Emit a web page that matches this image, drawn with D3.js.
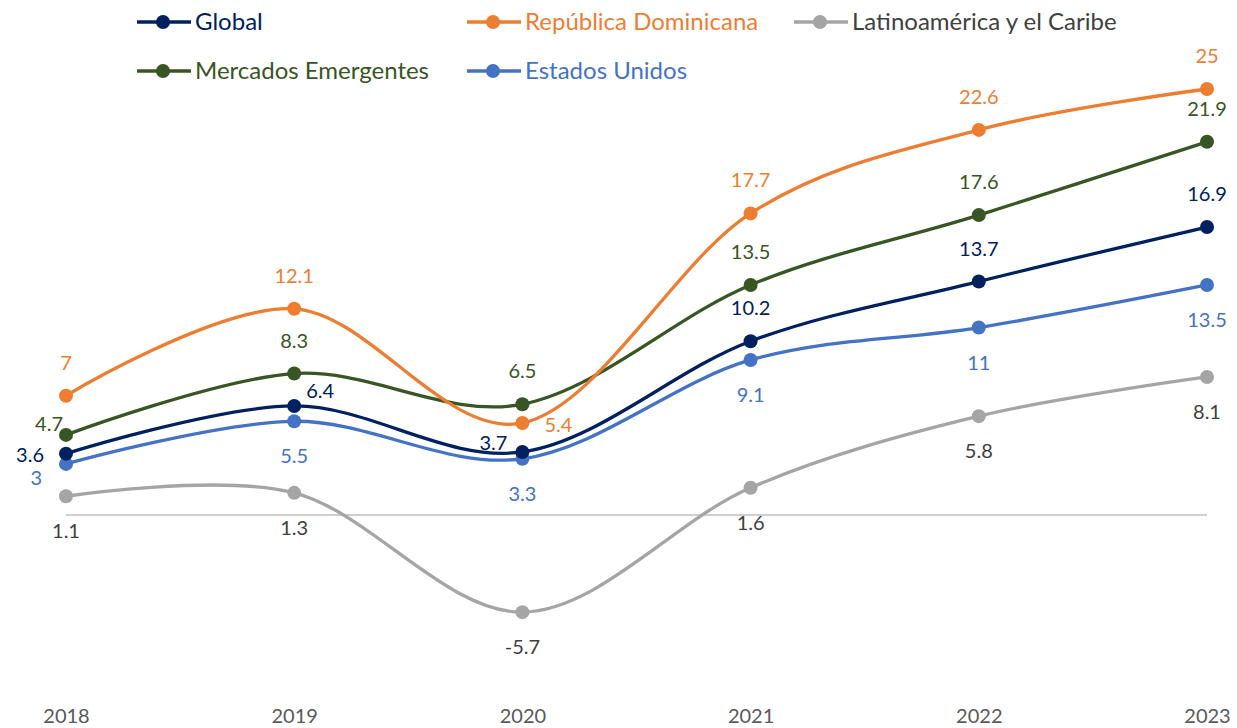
<!DOCTYPE html>
<html>
<head>
<meta charset="utf-8">
<script src="https://cdn.jsdelivr.net/npm/d3@7"></script>
<style>
  body { margin: 0; background: #fff; }
  svg { font-family: Lato, Calibri, "Open Sans", sans-serif; }
</style>
</head>
<body>
<svg id="chart" width="1237" height="728"></svg>
<script>
// data
const years = ["2018", "2019", "2020", "2021", "2022", "2023"];
const global = [3.6, 6.4, 3.7, 10.2, 13.7, 16.9];
const repDom = [7, 12.1, 5.4, 17.7, 22.6, 25];
const latam = [1.1, 1.3, -5.7, 1.6, 5.8, 8.1];
const emergentes = [4.7, 8.3, 6.5, 13.5, 17.6, 21.9];
const eeuu = [3, 5.5, 3.3, 9.1, 11, 13.5];

// series setup (draw order: bottom first)
const series = [
  { name: "Latinoamérica y el Caribe", values: latam, color: "#A5A5A5", text: "#404040",
    place: ["below", "below", "below", "below", "below", "below"] },
  { name: "Estados Unidos", values: eeuu, color: "#4472C4", text: "#4472C4",
    place: ["leftbelow", "below", "below", "below", "below", "below"] },
  { name: "Global", values: global, color: "#002060", text: "#002060",
    place: ["left", "rightabove", "leftup", "above", "above", "above"] },
  { name: "Mercados Emergentes", values: emergentes, color: "#375623", text: "#375623",
    place: ["leftabove", "above", "above", "above", "above", "above"] },
  { name: "República Dominicana", values: repDom, color: "#ED7D31", text: "#ED7D31",
    place: ["above", "above", "right", "above", "above", "above"] }
];

const svg = d3.select("#chart");

const x = d3.scalePoint().domain(years).range([66, 1207]);
const y = d3.scaleLinear().domain([0, 25]).range([515, 89]);

// zero line
svg.append("line")
  .attr("x1", x(years[0])).attr("x2", x(years[years.length - 1]))
  .attr("y1", y(0)).attr("y2", y(0))
  .attr("stroke", "#BFBFBF").attr("stroke-width", 1.5);

// x axis labels
const xAxis = svg.append("g")
  .attr("transform", "translate(0,716)")
  .call(d3.axisBottom(x).tickSize(0).tickPadding(0));
xAxis.select(".domain").remove();
xAxis.selectAll("text")
  .attr("dy", "0.35em")
  .style("font-family", "Lato, Calibri, sans-serif")
  .style("font-size", "20px")
  .attr("fill", "#595959");

const line = d3.line()
  .x((d, i) => x(years[i]))
  .y(d => y(d))
  .curve(d3.curveCardinal.tension(0));

series.forEach(s => {
  svg.append("path")
    .attr("d", line(s.values))
    .attr("fill", "none")
    .attr("stroke", s.color)
    .attr("stroke-width", 3.3);
});

series.forEach(s => {
  svg.selectAll(null)
    .data(s.values)
    .enter().append("circle")
      .attr("cx", (d, i) => x(years[i]))
      .attr("cy", d => y(d))
      .attr("r", 7)
      .attr("fill", s.color);
});

// data labels: [dx, dy, anchor]
const offsets = {
  above: [0, -33, "middle"],
  below: [0, 35, "middle"],
  left: [-22, 1, "end"],
  right: [22, 2, "start"],
  leftabove: [-3, -11, "end"],
  leftup: [-15, -9, "end"],
  leftbelow: [-24, 14, "end"],
  rightabove: [12, -15, "start"]
};
series.forEach(s => {
  svg.selectAll(null)
    .data(s.values)
    .enter().append("text")
      .attr("x", (d, i) => x(years[i]) + offsets[s.place[i]][0])
      .attr("y", (d, i) => y(d) + offsets[s.place[i]][1])
      .attr("dy", "0.35em")
      .attr("text-anchor", (d, i) => offsets[s.place[i]][2])
      .attr("fill", s.text)
      .style("font-size", "20px")
      .text(d => d);
});

// legend
const legendItems = [
  { s: series[2], x: 137, y: 22 },
  { s: series[4], x: 467, y: 22 },
  { s: series[0], x: 794, y: 22 },
  { s: series[3], x: 137, y: 71 },
  { s: series[1], x: 467, y: 71 }
];
const legend = svg.append("g");
legendItems.forEach(it => {
  const g = legend.append("g").attr("transform", `translate(${it.x},${it.y})`);
  g.append("line").attr("x1", 0).attr("x2", 54).attr("y1", 0).attr("y2", 0)
    .attr("stroke", it.s.color).attr("stroke-width", 3.3);
  g.append("circle").attr("cx", 26).attr("cy", 0).attr("r", 7).attr("fill", it.s.color);
  g.append("text")
    .attr("x", 58)
    .attr("dy", "0.35em")
    .attr("fill", it.s.text).style("font-size", "24px")
    .text(it.s.name);
});
</script>
</body>
</html>
